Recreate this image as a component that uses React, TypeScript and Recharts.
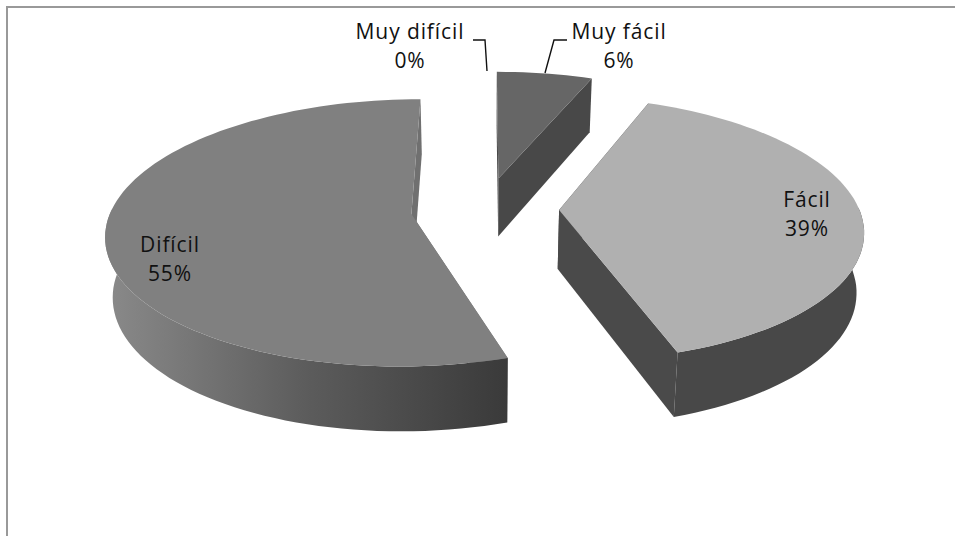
import { PieChart, Pie } from "recharts";

const categories = ["Muy fácil", "Fácil", "Difícil", "Muy difícil"];
const shares = [6, 39, 55, 0];

const chartData = categories.map((name, i) => ({ name, value: shares[i] }));

// pie stand-in for the 3D view: unit disc seen in perspective
const TILT = 0.432;
const PERSPECTIVE = 0.14;
const EXPLODE = 0.247;
const DEPTH = 59;

const sliceStyle: Record<string, { top: string; wall: string; cut: string }> = {
  "Muy fácil": { top: "#666666", wall: "#484848", cut: "#484848" },
  Fácil: { top: "#b0b0b0", wall: "#484848", cut: "#4a4a4a" },
  Difícil: { top: "#808080", wall: "url(#dificilWall)", cut: "#707070" },
  "Muy difícil": { top: "#808080", wall: "#484848", cut: "#484848" },
};

const labelSpot: Record<string, { x: number; y: number; leader?: string }> = {
  "Muy fácil": { x: 619, y: 39, leader: "M567 40 H554 L545 73" },
  Fácil: { x: 807, y: 207 },
  Difícil: { x: 170, y: 252 },
  "Muy difícil": { x: 410, y: 39, leader: "M473 40 H485 L487 71" },
};

const toRad = (deg: number) => (deg * Math.PI) / 180;

function Slice3D(props: any) {
  const { cx, cy, outerRadius, startAngle, endAngle, midAngle, name } = props;
  if (Math.abs(endAngle - startAngle) < 0.01) return <g />;
  const style = sliceStyle[name];
  const ox = EXPLODE * Math.cos(toRad(midAngle));
  const oy = EXPLODE * Math.sin(toRad(midAngle));

  // X to the right, Y going away from the viewer, radius 1
  const project = (X: number, Y: number, drop: number) => {
    const s = 1 / (1 + PERSPECTIVE * Y);
    const shrink = 1 - (drop / DEPTH) * 0.02;
    return [cx + outerRadius * X * s * shrink, cy - outerRadius * TILT * Y * s + drop * Math.pow(s, 0.6)];
  };
  const onRim = (deg: number, drop: number) =>
    project(ox + Math.cos(toRad(deg)), oy + Math.sin(toRad(deg)), drop);
  const apex = (drop: number) => project(ox, oy, drop);

  const rim: number[] = [];
  const steps = Math.ceil(Math.abs(endAngle - startAngle) / 2);
  for (let i = 0; i <= steps; i++) rim.push(startAngle + ((endAngle - startAngle) * i) / steps);
  // only the rim facing the viewer gets a wall
  const frontRim = rim.filter((a) => Math.sin(toRad(a)) < 0.05);

  const toPath = (pts: number[][]) =>
    "M" + pts.map((p) => `${p[0].toFixed(1)} ${p[1].toFixed(1)}`).join("L") + "Z";

  const topPath = toPath([apex(0), ...rim.map((a) => onRim(a, 0))]);
  const wallPath =
    frontRim.length > 1
      ? toPath([
          ...frontRim.map((a) => onRim(a, 0)),
          ...[...frontRim].reverse().map((a) => onRim(a, DEPTH)),
        ])
      : "";
  const cutFace = (deg: number) =>
    toPath([apex(0), onRim(deg, 0), onRim(deg, DEPTH), apex(DEPTH)]);

  return (
    <g>
      <path d={cutFace(startAngle)} fill={style.cut} />
      <path d={cutFace(endAngle)} fill={style.cut} />
      {wallPath && <path d={wallPath} fill={style.wall} />}
      <path d={topPath} fill={style.top} />
    </g>
  );
}

function renderLabel(props: any) {
  const { name, value } = props;
  const spot = labelSpot[name];
  return (
    <g key={name}>
      {spot.leader && <path d={spot.leader} fill="none" stroke="#111" strokeWidth={1.4} />}
      <text
        x={spot.x}
        y={spot.y}
        textAnchor="middle"
        fontFamily="'Open Sans'"
        fontSize={21}
        letterSpacing={0.9}
        fill="#111"
      >
        <tspan x={spot.x}>{name}</tspan>
        <tspan x={spot.x} dy={29}>{value}%</tspan>
      </text>
    </g>
  );
}

export default function App() {
  return (
    <div style={{ position: "absolute", left: 0, top: 0, width: 955, height: 536, background: "#fff" }}>
      <div
        style={{
          position: "absolute",
          left: 6,
          top: 6,
          width: 949,
          height: 530,
          borderTop: "2px solid #999",
          borderLeft: "2px solid #999",
          boxSizing: "border-box",
        }}
      />
      <PieChart width={955} height={536} margin={{ top: 0, right: 0, bottom: 0, left: 0 }} style={{ position: "absolute" }}>
        <defs>
          <linearGradient id="dificilWall" x1="0" y1="0" x2="1" y2="0">
            <stop offset="0%" stopColor="#8a8a8a" />
            <stop offset="50%" stopColor="#5c5c5c" />
            <stop offset="100%" stopColor="#3a3a3a" />
          </linearGradient>
        </defs>
        <Pie
          data={chartData}
          dataKey="value"
          nameKey="name"
          cx={485}
          cy={209}
          outerRadius={300}
          startAngle={90}
          endAngle={-270}
          stroke="none"
          shape={Slice3D}
          label={renderLabel}
          labelLine={false}
          isAnimationActive={false}
        />
      </PieChart>
    </div>
  );
}
